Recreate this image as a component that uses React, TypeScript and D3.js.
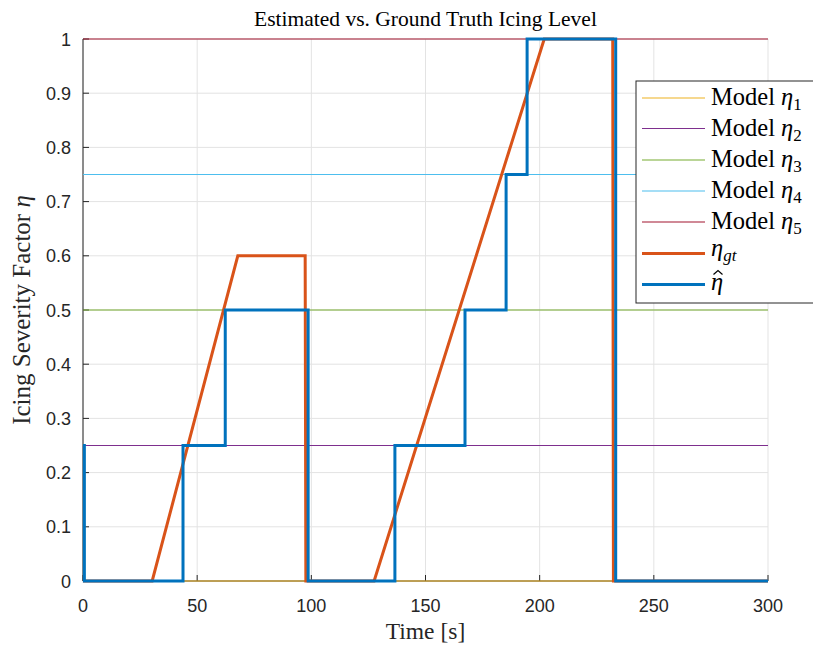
import React from "react";
import * as d3 from "d3";

// Ground-truth icing level (time in s, eta)
const gtTime = [0, 30.3, 67.8, 97.3, 97.6, 127.5, 202, 232, 232.3, 300];
const gtEta = [0, 0, 0.6, 0.6, 0, 0, 1, 1, 0, 0];

// Estimated icing level, piecewise constant (value holds until next time)
const estTime = [0, 0.6, 43.8, 62.3, 98.6, 136.6, 167.3, 185.3, 194.5, 233.3, 300];
const estEta = [0.25, 0, 0.25, 0.5, 0, 0.25, 0.5, 0.75, 1, 0, 0];

// Fixed model levels
const modelLevels = [0, 0.25, 0.5, 0.75, 1];
const modelColors = ["#EDB120", "#7E2F8E", "#77AC30", "#4DBEEE", "#A2142F"];

const xTicks = [0, 50, 100, 150, 200, 250, 300];
const yTicks = [0, 0.1, 0.2, 0.3, 0.4, 0.5, 0.6, 0.7, 0.8, 0.9, 1];

const W = 813;
const H = 646;
const left = 83;
const right = 768;
const top = 39;
const bottom = 581;

const serif = "'Liberation Serif', 'Times New Roman', serif";
const sans = "'Liberation Sans', Arial, sans-serif";

export default function App() {
  const x = d3.scaleLinear().domain([0, 300]).range([left, right]);
  const y = d3.scaleLinear().domain([0, 1]).range([bottom, top]);

  const gtLine = d3
    .line<number>()
    .x((_, i) => x(gtTime[i]))
    .y((d) => y(d));
  const estLine = d3
    .line<number>()
    .x((_, i) => x(estTime[i]))
    .y((d) => y(d))
    .curve(d3.curveStepAfter);

  const legendX = 636;
  const legendY = 81;
  const rowY = [98, 128.5, 160, 191, 222, 253.5, 284.5];

  return (
    <svg
      width={W}
      height={H}
      style={{ position: "absolute", left: 0, top: 0, background: "#fff" }}
    >
      <rect x={0} y={0} width={W} height={H} fill="#fff" />
      {/* grid */}
      {xTicks.map((t) => (
        <line key={"gx" + t} x1={x(t)} x2={x(t)} y1={top} y2={bottom} stroke="#e3e3e3" strokeWidth={1} />
      ))}
      {yTicks.map((t) => (
        <line key={"gy" + t} x1={left} x2={right} y1={y(t)} y2={y(t)} stroke="#e3e3e3" strokeWidth={1} />
      ))}
      {/* axes */}
      <line x1={left} x2={left} y1={top} y2={bottom} stroke="#262626" strokeWidth={1} />
      <line x1={left} x2={right} y1={bottom} y2={bottom} stroke="#262626" strokeWidth={1} />
      {xTicks.map((t) => (
        <line key={"tx" + t} x1={x(t)} x2={x(t)} y1={bottom} y2={bottom - 6} stroke="#262626" strokeWidth={1} />
      ))}
      {yTicks.map((t) => (
        <line key={"ty" + t} x1={left} x2={left + 6} y1={y(t)} y2={y(t)} stroke="#262626" strokeWidth={1} />
      ))}
      {/* model levels */}
      {modelLevels.map((v, i) => (
        <line key={"m" + i} x1={x(0)} x2={x(300)} y1={y(v)} y2={y(v)} stroke={modelColors[i]} strokeWidth={1.2} />
      ))}
      <path d={gtLine(gtEta) || ""} fill="none" stroke="#D95319" strokeWidth={3} strokeLinejoin="miter" />
      <path d={estLine(estEta) || ""} fill="none" stroke="#0072BD" strokeWidth={3} strokeLinejoin="miter" />
      {/* tick labels */}
      {xTicks.map((t) => (
        <text key={"lx" + t} x={x(t)} y={612} textAnchor="middle" fontFamily={sans} fontSize={18} fill="#262626">
          {t}
        </text>
      ))}
      {yTicks.map((t) => (
        <text key={"ly" + t} x={71} y={y(t) + 6.5} textAnchor="end" fontFamily={sans} fontSize={18} fill="#262626">
          {String(t)}
        </text>
      ))}
      {/* titles */}
      <text x={(left + right) / 2} y={26} textAnchor="middle" fontFamily={serif} fontSize={21.5} fill="#000">
        Estimated vs. Ground Truth Icing Level
      </text>
      <text x={(left + right) / 2} y={639} textAnchor="middle" fontFamily={serif} fontSize={23.5} fill="#262626">
        Time [s]
      </text>
      <text
        transform={`translate(30, ${(top + bottom) / 2}) rotate(-90)`}
        textAnchor="middle"
        fontFamily={serif}
        fontSize={25}
        fill="#262626"
      >
        Icing Severity Factor <tspan fontStyle="italic">η</tspan>
      </text>
      {/* legend */}
      <rect x={legendX} y={legendY} width={200} height={222} fill="#fff" stroke="#262626" strokeWidth={1} />
      {modelLevels.map((_, i) => (
        <g key={"lg" + i}>
          <line x1={642} x2={705} y1={rowY[i]} y2={rowY[i]} stroke={modelColors[i]} strokeWidth={1.2} />
          <text x={711} y={rowY[i] + 7} fontFamily={serif} fontSize={24.5} fill="#000">
            Model <tspan fontStyle="italic">η</tspan>
            <tspan fontSize={17} dy={5}>{i + 1}</tspan>
          </text>
        </g>
      ))}
      <line x1={642} x2={705} y1={rowY[5]} y2={rowY[5]} stroke="#D95319" strokeWidth={3} />
      <text x={711} y={rowY[5] + 2} fontFamily={serif} fontSize={24.5} fill="#000">
        <tspan fontStyle="italic">η</tspan>
        <tspan fontStyle="italic" fontSize={17} dy={5}>gt</tspan>
      </text>
      <line x1={642} x2={705} y1={rowY[6]} y2={rowY[6]} stroke="#0072BD" strokeWidth={3} />
      <text x={711} y={rowY[6] + 5} fontFamily={serif} fontSize={24.5} fontStyle="italic" fill="#000">
        η
      </text>
      {/* hat accent over the estimate symbol */}
      <path
        d={`M${713.5},${rowY[6] - 10} L${718},${rowY[6] - 14} L${722.5},${rowY[6] - 10}`}
        fill="none"
        stroke="#000"
        strokeWidth={1.2}
      />
    </svg>
  );
}
